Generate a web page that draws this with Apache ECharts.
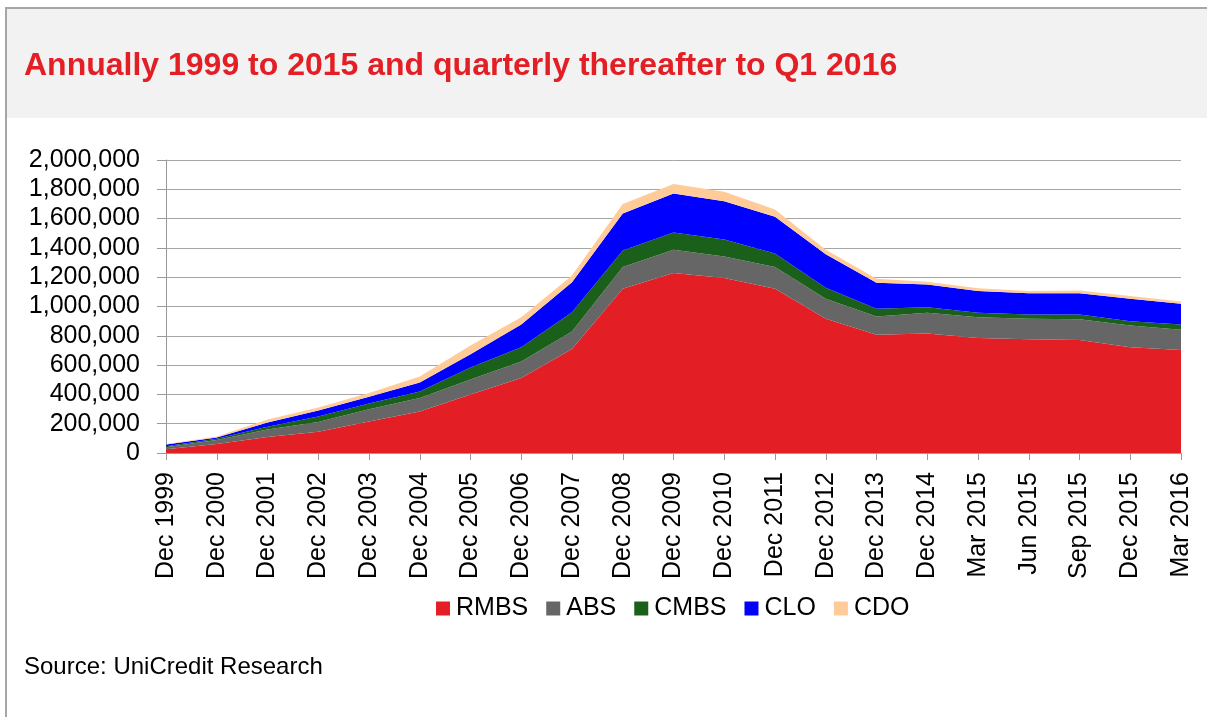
<!DOCTYPE html>
<html>
<head>
<meta charset="utf-8">
<script src="https://cdn.jsdelivr.net/npm/echarts@6/dist/echarts.min.js"></script>
<style>
html,body{margin:0;padding:0;background:#fff;}
#chart{width:1207px;height:717px;}
</style>
</head>
<body>
<div id="chart"></div>
<script>
const categories = ['Dec 1999','Dec 2000','Dec 2001','Dec 2002','Dec 2003','Dec 2004','Dec 2005','Dec 2006','Dec 2007','Dec 2008','Dec 2009','Dec 2010','Dec 2011','Dec 2012','Dec 2013','Dec 2014','Mar 2015','Jun 2015','Sep 2015','Dec 2015','Mar 2016'];
const rmbs = [25000,62000,110000,145000,215000,283000,400000,512000,710000,1121000,1228000,1194000,1121000,916000,808000,815000,785000,776000,772000,721000,703000];
const abs  = [15000,26000,50000,67000,83000,92000,101000,113000,119000,148000,160000,148000,148000,137000,123000,142000,142000,140000,141000,149000,139000];
const cmbs = [6000,9000,20000,38000,40000,45000,82000,96000,132000,114000,117000,115000,92000,75000,53000,38000,30000,29000,32000,29000,35000];
const clo  = [12000,9000,28000,40000,46000,62000,91000,156000,205000,252000,267000,262000,251000,228000,178000,156000,148000,146000,146000,154000,141000];
const cdo  = [4000,6000,20000,20000,25000,41000,59000,50000,46000,64000,64000,64000,50000,32000,28000,18000,20000,14000,19000,18000,16000];
const seriesNames = ['RMBS','ABS','CMBS','CLO','CDO'];
const seriesColors = ['#E31E24','#666666','#1A601A','#0000FF','#FFCC99'];
const seriesData = [rmbs, abs, cmbs, clo, cdo];
const titleText = 'Annually 1999 to 2015 and quarterly thereafter to Q1 2016';
const sourceText = 'Source: UniCredit Research';

const FONT = '"Liberation Sans", Arial, sans-serif';
const chart = echarts.init(document.getElementById('chart'), null, {renderer:'canvas'});

const series = seriesNames.map((name, i) => ({
  name: name,
  type: 'line',
  stack: 'total',
  data: seriesData[i],
  symbol: 'none',
  showSymbol: false,
  lineStyle: {width: 0},
  itemStyle: {color: seriesColors[i]},
  areaStyle: i === 0
    ? {color: seriesColors[i], opacity: 1, shadowColor: '#000', shadowBlur: 0, shadowOffsetX: 3, shadowOffsetY: 3}
    : {color: seriesColors[i], opacity: 1},
  z: 2 + i,
  emphasis: {disabled: true}
}));

chart.setOption({
  animation: false,
  backgroundColor: '#fff',
  graphic: [
    {type:'rect', shape:{x:6, y:8, width:1201, height:110}, style:{fill:'#F2F2F2'}, z:-10, silent:true},
    {type:'rect', shape:{x:5, y:7, width:1202, height:2}, style:{fill:'#A6A6A6'}, z:-9, silent:true},
    {type:'rect', shape:{x:5, y:7, width:2, height:710}, style:{fill:'#A6A6A6'}, z:-9, silent:true}
  ],
  title: [
    {text: titleText, left: 19, top: 45,
     textStyle:{color:'#E31E24', fontSize:32, fontWeight:'bold', fontFamily:FONT}},
    {text: sourceText, left: 19, top: 650,
     textStyle:{color:'#000', fontSize:24, fontWeight:'normal', fontFamily:FONT}}
  ],
  legend: {
    data: seriesNames,
    left: 431, top: 591,
    icon: 'rect', itemWidth: 14, itemHeight: 14, itemGap: 18,
    textStyle: {fontSize: 25, color:'#000', fontFamily: FONT, padding:[0,0,0,1]}
  },
  grid: {left: 166, right: 26, top: 160, bottom: 264, containLabel: false},
  xAxis: {
    type: 'category',
    data: categories,
    boundaryGap: false,
    axisLine: {show: true, lineStyle: {color:'#999999', width:1}},
    axisTick: {show: true, alignWithLabel: true, length: 7, lineStyle:{color:'#999999'}},
    axisLabel: {rotate: 90, margin: 19, fontSize: 25, color:'#000', fontFamily: FONT, interval: 0},
    splitLine: {show: false}
  },
  yAxis: {
    type: 'value',
    min: 0, max: 2000000, interval: 200000,
    axisLine: {show: true, lineStyle: {color:'#999999', width:1}},
    axisTick: {show: true, inside: false, length: 9, lineStyle:{color:'#999999'}},
    axisLabel: {margin: 26, fontSize: 25, color:'#000', fontFamily: FONT,
      formatter: v => v.toString().replace(/\B(?=(\d{3})+(?!\d))/g, ',')},
    splitLine: {show: true, lineStyle: {color:'#A6A6A6', width: 1}}
  },
  series: series
});
</script>
</body>
</html>
